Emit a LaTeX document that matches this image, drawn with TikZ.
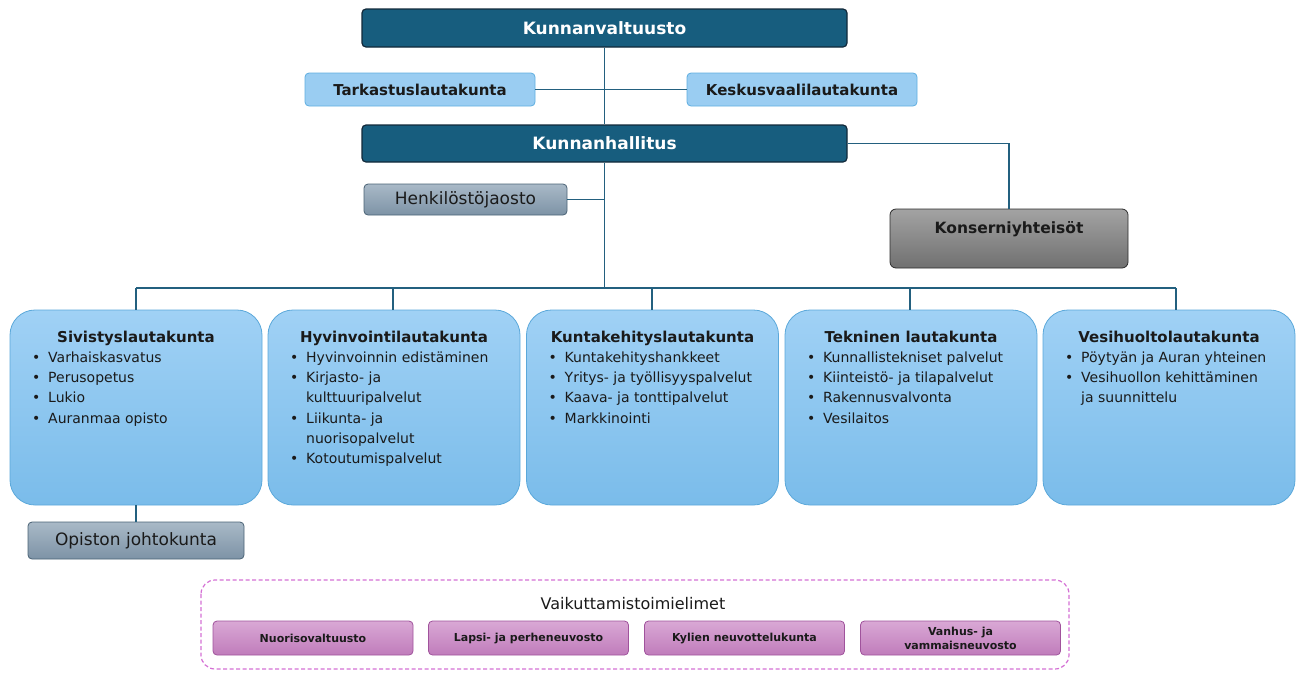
\documentclass[tikz,border=0pt]{standalone}
\usepackage{fontspec}
\setmainfont{DejaVu Sans}
\definecolor{darkf}{HTML}{175D7E}
\definecolor{darkb}{HTML}{12293A}
\definecolor{lbf}{HTML}{9ACDF2}
\definecolor{lbb}{HTML}{5FAEE0}
\definecolor{bigt}{HTML}{A0D1F5}
\definecolor{bigbot}{HTML}{7ABCEA}
\definecolor{bigb}{HTML}{5BA8DA}
\definecolor{gbt}{HTML}{A9B9C7}
\definecolor{gbb}{HTML}{7D93A6}
\definecolor{gbd}{HTML}{4A6275}
\definecolor{grt}{HTML}{A3A3A3}
\definecolor{grb}{HTML}{707070}
\definecolor{grd}{HTML}{2C2C2C}
\definecolor{pkt}{HTML}{D9A8D5}
\definecolor{pkb}{HTML}{C07CBB}
\definecolor{pkd}{HTML}{A0539C}
\definecolor{dashc}{HTML}{D470D4}
\definecolor{linec}{HTML}{23607F}
\definecolor{textc}{HTML}{1A1A1A}
\tikzset{
  conn/.style={draw=linec, line width=1.5pt},
  darkbox/.style={draw=darkb, line width=1.2pt, fill=darkf, rounded corners=4pt,
    text=white, font=\fontsize{17}{20}\selectfont\bfseries, inner sep=0pt},
  lightbox/.style={draw=lbb, line width=0.8pt, fill=lbf, rounded corners=4pt,
    text=textc, font=\fontsize{15}{18}\selectfont\bfseries, inner sep=0pt,
    minimum width=230pt, minimum height=33pt},
  gbbox/.style={draw=gbd, line width=0.8pt, top color=gbt, bottom color=gbb, rounded corners=4pt,
    text=textc, font=\fontsize{17}{20}\selectfont, inner sep=0pt},
  grbox/.style={draw=grd, line width=0.8pt, top color=grt, bottom color=grb, rounded corners=6pt,
    inner sep=0pt, minimum width=238pt, minimum height=59pt},
  bigbox/.style={draw=bigb, line width=0.8pt, top color=bigt, bottom color=bigbot, rounded corners=25pt,
    inner sep=0pt, minimum width=252pt, minimum height=195pt},
  ttl/.style={anchor=base, inner sep=0pt, text=textc, font=\fontsize{15}{18}\selectfont\bfseries},
  itm/.style={anchor=base west, inner sep=0pt, text=textc, font=\fontsize{14}{17}\selectfont},
  pkbox/.style={draw=pkd, line width=0.8pt, top color=pkt, bottom color=pkb, rounded corners=4pt,
    inner sep=0pt, minimum width=200pt, minimum height=34pt, align=center,
    text=textc, font=\fontsize{11}{14}\selectfont\bfseries},
}
\newcommand{\bl}[2]{\ifnum#1=1 \makebox[16pt][l]{•}\else\hspace*{16pt}\fi#2}
\begin{document}
\begin{tikzpicture}[x=1pt,y=-1pt]
\useasboundingbox (0,0) rectangle (1301,673);

% top level
\node[darkbox, minimum width=485pt, minimum height=38pt] (kv) at (604.5,28) {Kunnanvaltuusto};
\node[lightbox] (tl) at (420,89.5) {Tarkastuslautakunta};
\node[lightbox] (kvl) at (802,89.5) {Keskusvaalilautakunta};
\node[darkbox, minimum width=485pt, minimum height=37pt] (kh) at (604.5,143.5) {Kunnanhallitus};
\node[gbbox, minimum width=203pt, minimum height=31pt] (hj) at (465.5,199.5) {Henkilöstöjaosto};
\node[grbox] (ko) at (1009,238.5) {};
\node[anchor=base, inner sep=0pt, text=textc, font=\fontsize{15.5}{18}\selectfont\bfseries] (kot) at (1009,233) {Konserniyhteisöt};

% connectors (behind boxes drawn later)
\coordinate (bus) at (604.5,288);
\coordinate (busl) at (136,288);
\coordinate (busr) at (1176,288);

% big boxes
\node[bigbox] (b1) at (136,407.5) {};
\node[bigbox] (b2) at (394,407.5) {};
\node[bigbox] (b3) at (652.5,407.5) {};
\node[bigbox] (b4) at (911,407.5) {};
\node[bigbox] (b5) at (1169,407.5) {};

\coordinate (d1) at (136,288);
\coordinate (d2) at (393,288);
\coordinate (d3) at (652,288);
\coordinate (d4) at (910,288);
\coordinate (d5) at (1176,288);

\begin{scope}[on background layer/.style={}]
\draw[conn] (kv.south) -- (kh.north);
\draw[conn] (tl.east) -- (kvl.west);
\draw[conn] (kh.south) -- (bus);
\draw[conn] (hj.east) -- (hj.east -| kh.south);
\draw[conn] (kh.east) -| (ko.north);
\draw[conn] (busl) -- (busr);
\draw[conn] (d1) -- (d1 |- b1.north);
\draw[conn] (d2) -- (d2 |- b2.north);
\draw[conn] (d3) -- (d3 |- b3.north);
\draw[conn] (d4) -- (d4 |- b4.north);
\draw[conn] (d5) -- (d5 |- b5.north);
\end{scope}

% titles
\node[ttl] (t1) at (136,342.5) {Sivistyslautakunta};
\node[ttl] (t2) at (394,342.5) {Hyvinvointilautakunta};
\node[ttl] (t3) at (652.5,342.5) {Kuntakehityslautakunta};
\node[ttl] (t4) at (911,342.5) {Tekninen lautakunta};
\node[ttl] (t5) at (1169,342.5) {Vesihuoltolautakunta};

% items
\foreach \b/\t [count=\i] in {1/Varhaiskasvatus,1/Perusopetus,1/Lukio,1/Auranmaa opisto}
  \node[itm] (sa\i) at (32,{362.7+(\i-1)*20.1}) {\bl{\b}{\t}};
\foreach \b/\t [count=\i] in {1/Hyvinvoinnin edistäminen,1/Kirjasto- ja,0/kulttuuripalvelut,1/Liikunta- ja,0/nuorisopalvelut,1/Kotoutumispalvelut}
  \node[itm] (sb\i) at (290,{362.7+(\i-1)*20.1}) {\bl{\b}{\t}};
\foreach \b/\t [count=\i] in {1/Kuntakehityshankkeet,1/Yritys- ja työllisyyspalvelut,1/Kaava- ja tonttipalvelut,1/Markkinointi}
  \node[itm] (sc\i) at (548.5,{362.7+(\i-1)*20.1}) {\bl{\b}{\t}};
\foreach \b/\t [count=\i] in {1/Kunnallistekniset palvelut,1/Kiinteistö- ja tilapalvelut,1/Rakennusvalvonta,1/Vesilaitos}
  \node[itm] (sd\i) at (807,{362.7+(\i-1)*20.1}) {\bl{\b}{\t}};
\foreach \b/\t [count=\i] in {1/Pöytyän ja Auran yhteinen,1/Vesihuollon kehittäminen,0/ja suunnittelu}
  \node[itm] (se\i) at (1065,{362.7+(\i-1)*20.1}) {\bl{\b}{\t}};

% opisto
\node[gbbox, minimum width=216pt, minimum height=37pt] (oj) at (136,540.5) {Opiston johtokunta};
\draw[conn] (b1.south) -- (oj.north);

% vaikuttamistoimielimet
\draw[dashc, line width=1.2pt, dash pattern=on 4pt off 2.5pt, rounded corners=14pt] (201,580) rectangle (1069,669);
\node[anchor=base, inner sep=0pt, text=textc, font=\fontsize{16}{19}\selectfont] (vt) at (633,609) {Vaikuttamistoimielimet};
\node[pkbox] (p1) at (313,638) {Nuorisovaltuusto};
\node[pkbox] (p2) at (528.5,638) {Lapsi- ja perheneuvosto};
\node[pkbox] (p3) at (744.5,638) {Kylien neuvottelukunta};
\node[pkbox] (p4) at (960.5,638) {Vanhus- ja\\vammaisneuvosto};
\end{tikzpicture}
\end{document}
